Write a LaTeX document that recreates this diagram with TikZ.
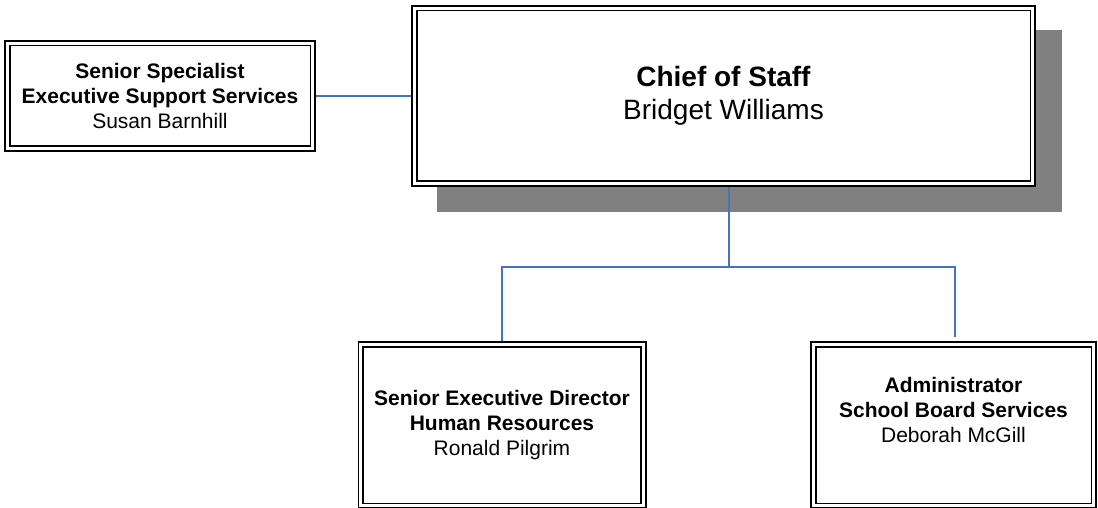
\documentclass[tikz,border=0pt]{standalone}
\usepackage{fontspec}
\setmainfont{Liberation Sans}
\usepackage{xcolor}
\definecolor{linkblue}{HTML}{4472C4}
\definecolor{shadowgray}{HTML}{808080}
\usetikzlibrary{calc,backgrounds}
\tikzset{
  orgbox/.style={draw=black,double=white,line width=1.9pt,double distance=2.7pt,fill=white,outer sep=3.25pt,inner sep=2pt,align=center,font=\fontsize{21}{25}\selectfont},
  headbox/.style={orgbox,font=\fontsize{28}{33}\selectfont},
  link/.style={draw=linkblue,line width=1.6pt},
}

\begin{document}
\begin{tikzpicture}[x=1pt,y=-1pt]
\useasboundingbox (0,0) rectangle (1098,508);
\node[headbox,minimum width=618.5pt,minimum height=175.5pt] (chief) at (723.5,96) {\textbf{Chief of Staff}\\Bridget Williams};
\node[orgbox,minimum width=305.5pt,minimum height=105.5pt] (support) at (160,96) {\textbf{Senior Specialist}\\\textbf{Executive Support Services}\\Susan Barnhill};
\node[orgbox,minimum width=282.5pt,minimum height=161.5pt] (hr) at (502,425) {\textbf{Senior Executive Director}\\\textbf{Human Resources}\\Ronald Pilgrim};
\node[orgbox,minimum width=280.5pt,minimum height=161.5pt,text depth=30pt] (board) at (953.5,425) {\textbf{Administrator}\\\textbf{School Board Services}\\Deborah McGill};
\begin{scope}[on background layer]
\fill[shadowgray] ($(chief.north west)+(26,25)$) rectangle ($(chief.south east)+(26,25)$);
\end{scope}
\coordinate (fork) at ($(chief.south)+(5.5,80)$);
\draw[link] (support) -- (chief);
\draw[link] ([xshift=5.5pt]chief.south) -- (fork);
\draw[link] (hr.north) |- (fork) -| ([xshift=1.5pt,yshift=4pt]board.north);
\end{tikzpicture}
\end{document}
